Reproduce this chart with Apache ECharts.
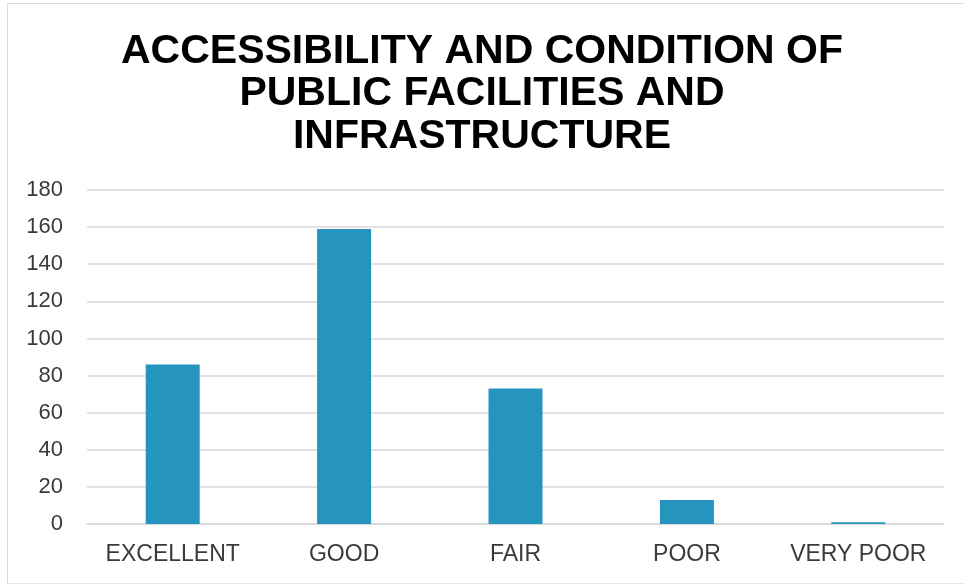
<!DOCTYPE html>
<html>
<head>
<meta charset="utf-8">
<script src="https://cdn.jsdelivr.net/npm/echarts@6/dist/echarts.min.js"></script>
<style>
  html, body { margin: 0; padding: 0; background: #ffffff; }
  #chart { width: 964px; height: 586px; }
  #frame {
    position: absolute; left: 7px; top: 3px; width: 980px; height: 579px;
    border-left: 1px solid #d9d9d9; border-top: 1px solid #d9d9d9;
    border-bottom: 1px solid #e6e6e6;
    pointer-events: none;
  }
</style>
</head>
<body>
<div id="chart"></div>
<div id="frame"></div>
<script>
// Survey ratings and their response counts
const categories = ['EXCELLENT', 'GOOD', 'FAIR', 'POOR', 'VERY POOR'];
const responses = [86, 159, 73, 13, 1];
const yTicks = { min: 0, max: 180, step: 20 };

const chart = echarts.init(document.getElementById('chart'));
chart.setOption({
  backgroundColor: '#ffffff',
  animation: false,
  title: {
    text: 'ACCESSIBILITY AND CONDITION OF\nPUBLIC FACILITIES AND\nINFRASTRUCTURE',
    left: 'center',
    top: 25,
    textStyle: {
      fontFamily: 'Liberation Sans',
      fontSize: 41,
      fontWeight: 'bold',
      color: '#000000',
      lineHeight: 42.5
    }
  },
  grid: { left: 87, right: 20, top: 190, bottom: 62 },
  xAxis: {
    type: 'category',
    data: categories,
    axisLine: { show: true, lineStyle: { color: '#d9d9d9', width: 1.5 } },
    axisTick: { show: false },
    axisLabel: {
      interval: 0,
      margin: 19,
      fontFamily: 'Liberation Sans',
      fontSize: 23,
      color: '#3a3a3a'
    }
  },
  yAxis: {
    type: 'value',
    min: yTicks.min,
    max: yTicks.max,
    interval: yTicks.step,
    axisLine: { show: false },
    axisTick: { show: false },
    splitLine: { lineStyle: { color: '#d9d9d9', width: 1.5 } },
    axisLabel: {
      margin: 24,
      fontFamily: 'Liberation Sans',
      fontSize: 22,
      color: '#3a3a3a'
    }
  },
  series: [{
    type: 'bar',
    data: responses,
    barWidth: '31.5%',
    itemStyle: { color: '#2595c0' }
  }]
});
</script>
</body>
</html>
